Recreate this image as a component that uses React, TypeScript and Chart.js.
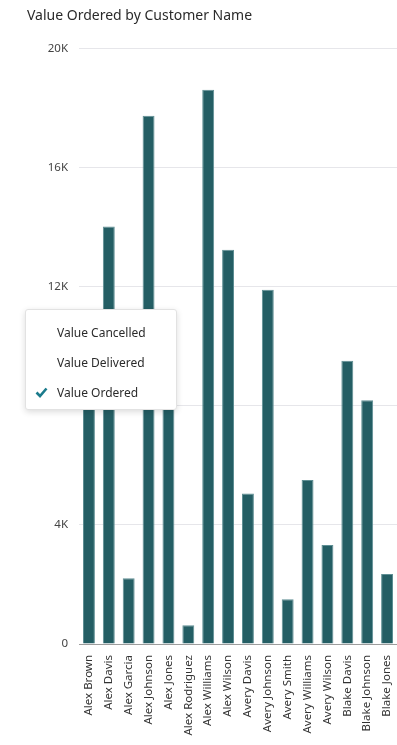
import React, { useEffect, useRef } from "react";
import { Chart, registerables } from "chart.js";

Chart.register(...registerables);

const TITLE = "Value Ordered by Customer Name";

const customers = [
  "Alex Brown",
  "Alex Davis",
  "Alex Garcia",
  "Alex Johnson",
  "Alex Jones",
  "Alex Rodriguez",
  "Alex Williams",
  "Alex Wilson",
  "Avery Davis",
  "Avery Johnson",
  "Avery Smith",
  "Avery Williams",
  "Avery Wilson",
  "Blake Davis",
  "Blake Johnson",
  "Blake Jones",
];

const valueOrdered = [
  9600, 14030, 2210, 17750, 10200, 630, 18620, 13250, 5060, 11900, 1500, 5510,
  3330, 9520, 8190, 2350,
];

const yTickValues = [0, 4000, 8000, 12000, 16000, 20000];

const legendItems = ["Value Cancelled", "Value Delivered", "Value Ordered"];
const legendChecked = [false, false, true];

const FONT = "'Noto Sans', 'Open Sans', sans-serif";

export default function App() {
  const canvasRef = useRef<HTMLCanvasElement | null>(null);

  useEffect(() => {
    const canvas = canvasRef.current;
    if (!canvas) return;
    const chart = new Chart(canvas, {
      type: "bar",
      data: {
        labels: customers,
        datasets: [
          {
            label: "Value Ordered",
            data: valueOrdered,
            backgroundColor: "#245e64",
            borderColor: "#5f8f94",
            borderWidth: { left: 1, right: 1, top: 1, bottom: 0 },
            barPercentage: 0.6,
            categoryPercentage: 1,
          },
        ],
      },
      options: {
        responsive: false,
        animation: false,
        layout: { padding: { left: 27, right: 0, top: 0, bottom: 0 } },
        plugins: {
          legend: { display: false },
          tooltip: { enabled: false },
          title: {
            display: true,
            text: TITLE,
            align: "start",
            color: "#2b2b2b",
            font: { family: FONT, size: 14, weight: "normal" },
            padding: { top: 8, bottom: 24 },
          },
        },
        scales: {
          x: {
            grid: { display: false },
            border: { display: true, color: "#9c9c9c" },
            ticks: {
              autoSkip: false,
              minRotation: 90,
              maxRotation: 90,
              color: "#333333",
              font: { family: FONT, size: 11.5 },
              padding: 3,
            },
            afterFit: (s: any) => {
              s.height = 101;
              s.paddingLeft = 0;
              s.paddingRight = 0;
            },
          },
          y: {
            min: 0,
            max: 20000,
            afterBuildTicks: (s: any) => {
              s.ticks = yTickValues.map((v) => ({ value: v }));
            },
            border: { display: false },
            grid: { color: "#e6e6ea", drawTicks: false },
            ticks: {
              padding: 11,
              color: "#444444",
              font: { family: FONT, size: 11.5 },
              callback: (v: any) => (Number(v) === 0 ? "0" : Number(v) / 1000 + "K"),
            },
            afterFit: (s: any) => {
              s.width = 52;
            },
          },
        },
      },
    });
    return () => chart.destroy();
  }, []);

  return (
    <div style={{ position: "absolute", left: 0, top: 0, width: 397, height: 745 }}>
      <canvas ref={canvasRef} width={397} height={745} style={{ display: "block" }} />
      <div
        style={{
          position: "absolute",
          left: 25,
          top: 309,
          width: 152,
          height: 101,
          boxSizing: "border-box",
          background: "#ffffff",
          border: "1px solid #e2e2e2",
          borderRadius: 3,
          boxShadow: "0 2px 6px rgba(0,0,0,0.14)",
          fontFamily: FONT,
          fontSize: 12,
          color: "#2b2b2b",
          paddingTop: 8,
        }}
      >
        {legendItems.map((item, i) => (
          <div
            key={item}
            style={{ position: "relative", height: 30, lineHeight: "30px", paddingLeft: 31 }}
          >
            {legendChecked[i] && (
              <svg
                width={13}
                height={11}
                viewBox="0 0 13 11"
                style={{ position: "absolute", left: 9, top: 9 }}
              >
                <polyline
                  points="1.5,5.5 5,9 11.5,1.5"
                  fill="none"
                  stroke="#1b7b8c"
                  strokeWidth={2.6}
                />
              </svg>
            )}
            {item}
          </div>
        ))}
      </div>
    </div>
  );
}
